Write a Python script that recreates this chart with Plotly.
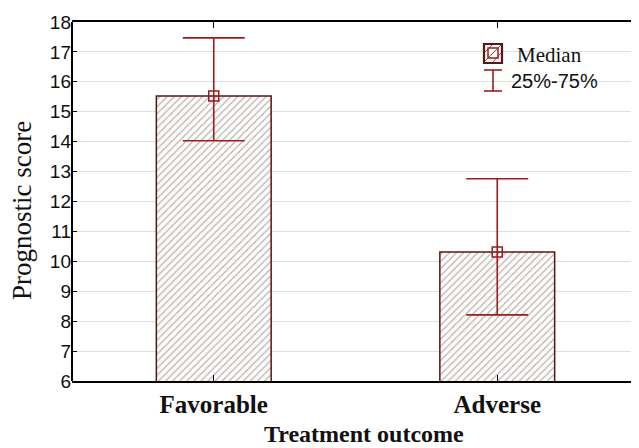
import plotly.graph_objects as go

categories = ["Favorable", "Adverse"]
medians = [15.53, 10.31]
q25 = [14.03, 8.21]
q75 = [17.47, 12.76]
y_ticks = [6, 7, 8, 9, 10, 11, 12, 13, 14, 15, 16, 17, 18]

# page body has an 8px margin; the figure is sized so the screen layout matches
OFF = 8
W, H = 639 - OFF, 448 - OFF
SL, ST, SB = 72, 22, 381          # screen-pixel plot edges
ML, MT = SL - OFF, ST - OFF
MB = H - (SB - OFF)
MR = 0
PW, PH = W - ML - MR, H - MT - MB

def px(X):
    return (X - SL) / PW

def py(Y):
    return (SB - Y) / PH

RED = "#9b1d20"
DARK = "#5c1416"

fig = go.Figure()
fig.add_trace(go.Bar(
    x=categories, y=medians, width=0.405,
    marker=dict(color="#fffcfc", line=dict(color=DARK, width=1.5),
                pattern=dict(shape="/", fgcolor="#6a6060", bgcolor="#fffcfc", size=5, solidity=0.22)),
    showlegend=False, hoverinfo="skip"))
fig.add_trace(go.Scatter(
    x=categories, y=medians, mode="markers",
    marker=dict(symbol="square-open", size=10, color=RED, line=dict(width=1.5, color=RED)),
    error_y=dict(type="data", symmetric=False,
                 array=[a - m for a, m in zip(q75, medians)],
                 arrayminus=[m - b for m, b in zip(medians, q25)],
                 color=RED, thickness=1.6, width=31),
    showlegend=False))

shapes = []
shapes.append(dict(type="line", xref="paper", yref="paper", x0=0, x1=0, y0=0, y1=1,
                   line=dict(color="black", width=2)))
shapes.append(dict(type="rect", xref="paper", yref="paper", x0=px(484), x1=px(502), y0=py(63), y1=py(44),
                   line=dict(color=DARK, width=2.2), fillcolor="#fffcfc"))
for (a, b, c, d) in [(485, 52, 492, 45), (485, 61, 501, 45), (493, 62, 501, 53)]:
    shapes.append(dict(type="line", xref="paper", yref="paper", x0=px(a), y0=py(b), x1=px(c), y1=py(d),
                       line=dict(color="#8a5555", width=1)))
shapes.append(dict(type="rect", xref="paper", yref="paper", x0=px(488), x1=px(498), y0=py(58), y1=py(48),
                   line=dict(color=RED, width=1.5)))
shapes.append(dict(type="line", xref="paper", yref="paper", x0=px(493), x1=px(493), y0=py(70), y1=py(91),
                   line=dict(color=RED, width=1.6)))
for yy in (70, 91):
    shapes.append(dict(type="line", xref="paper", yref="paper", x0=px(484), x1=px(502), y0=py(yy), y1=py(yy),
                       line=dict(color=RED, width=1.6)))

annotations = [
    dict(text="Median", xref="paper", yref="paper", x=px(515), y=py(55), xanchor="left", yanchor="middle",
         showarrow=False, font=dict(family="Liberation Serif", size=21, color="#111")),
    dict(text="25%-75%", xref="paper", yref="paper", x=px(509), y=py(81), xanchor="left", yanchor="middle",
         showarrow=False, font=dict(family="Liberation Sans", size=20, color="#111")),
    dict(text="<b>Treatment outcome</b>", xref="paper", yref="paper", x=px(364), y=py(434),
         xanchor="center", yanchor="middle", showarrow=False,
         font=dict(family="Liberation Serif", size=24, color="#111")),
    dict(text="Prognostic score", xref="paper", yref="paper", x=px(22), y=py(211), textangle=-90,
         xanchor="center", yanchor="middle", showarrow=False,
         font=dict(family="Liberation Serif", size=27, color="#111")),
]

fig.update_layout(
    width=W, height=H, margin=dict(l=ML, r=MR, t=MT, b=MB),
    paper_bgcolor="white", plot_bgcolor="white",
    shapes=shapes, annotations=annotations,
    xaxis=dict(range=[-0.5, 1.5], tickmode="array", tickvals=categories,
               ticktext=["<b>" + c + "</b>" for c in categories],
               tickfont=dict(family="Liberation Serif", size=25, color="#111"),
               showline=True, linecolor="black", linewidth=2, mirror="ticks",
               ticks="inside", ticklen=6, tickcolor="black", showgrid=False, zeroline=False),
    yaxis=dict(range=[6, 18], tickvals=y_ticks,
               tickfont=dict(family="Liberation Sans", size=19, color="#111"),
               showline=False, mirror="ticks", ticks="inside", ticklen=5, tickcolor="black",
               showgrid=True, gridcolor="#dedede", gridwidth=1, zeroline=False),
)

fig.write_html("out.html")
